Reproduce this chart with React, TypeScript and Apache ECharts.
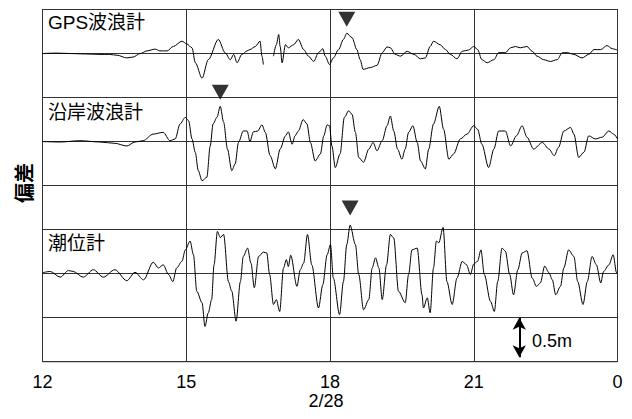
import React, { useEffect, useRef } from 'react';
import * as echarts from 'echarts';

// ---- axis & labels ----
const xTicks = [12, 15, 18, 21, 24];
const xTickLabels = ['12', '15', '18', '21', '0'];
const dateLabel = '2/28';
const yAxisName = '偏差';
const seriesNames = ['GPS波浪計', '沿岸波浪計', '潮位計'];
const baselines = [3.5, 2.5, 1.0]; // vertical offset (m) of each trace
const scaleLabel = '0.5m';
const scaleBarTime = 21.95;
const scaleBarRange = [0.05, 0.5];

// peak markers [time, level]
const peakMarks = [
  [18.35, 3.89],
  [15.71, 3.06],
  [18.42, 1.745],
];

// ---- GPS wave gauge (hours, deviation m) ----
const gpsTime = [
  12.0, 12.3, 12.57, 12.9, 13.2, 13.4, 13.56, 13.76, 13.89, 14.04, 14.18, 14.35, 14.45, 14.6, 14.73,
  14.91, 15.01, 15.12, 15.19, 15.33, 15.46, 15.67, 15.81, 15.92, 15.99, 16.06, 16.16, 16.27, 16.33,
  16.44, 16.54, 16.58, 16.61, 16.7, 16.82, 16.88, 16.93, 16.96, 17.0, 17.07, 17.13, 17.24, 17.34,
  17.45, 17.55, 17.66, 17.76, 17.85, 17.9, 17.99, 18.07, 18.18, 18.28, 18.35, 18.46, 18.56, 18.63,
  18.69, 18.84, 18.98, 19.09, 19.19, 19.26, 19.36, 19.47, 19.61, 19.75, 19.89, 19.99, 20.09, 20.16,
  20.3, 20.41, 20.51, 20.65, 20.76, 20.89, 21.0, 21.08, 21.17, 21.28, 21.42, 21.52, 21.66, 21.77,
  21.87, 21.97, 22.11, 22.22, 22.32, 22.46, 22.6, 22.74, 22.85, 22.95, 23.09, 23.26, 23.4, 23.51,
  23.65, 23.78, 23.89, 23.99,
];
const gpsDev = [
  0.0, 0.005, 0.0, -0.005, -0.01, -0.01, -0.02, -0.05, -0.04, 0.0, 0.03, 0.05, 0.03, 0.03, 0.08,
  0.14, 0.11, 0.065, -0.105, -0.28, -0.07, 0.16, 0.01, -0.07, -0.01, -0.105, -0.01, 0.03, 0.045,
  0.08, 0.14, -0.03, -0.125, null, -0.03, 0.1, 0.215, 0.08, -0.105, 0.1, 0.065, 0.1, 0.16,
  0.045, -0.03, -0.09, 0.01, 0.055, -0.03, -0.125, -0.05, 0.045, 0.16, 0.23, 0.18, 0.045, -0.07,
  -0.18, -0.16, -0.135, 0.01, 0.075, 0.065, -0.01, -0.03, 0.025, -0.01, -0.06, -0.05, 0.08, 0.14,
  0.1, 0.045, -0.01, -0.06, 0.025, 0.04, 0.08, 0.045, -0.07, -0.105, -0.07, 0.01, 0.01, 0.065,
  0.08, 0.065, 0.08, 0.025, -0.03, -0.07, -0.09, -0.07, 0.01, 0.01, -0.01, -0.05, -0.01, 0.045,
  0.045, 0.09, 0.055, 0.04,
];

// ---- coastal wave gauge ----
const coastTime = [
  12.0, 12.37, 12.78, 13.2, 13.51, 13.76, 13.93, 14.1, 14.31, 14.52, 14.66, 14.77, 14.87, 14.98,
  15.05, 15.12, 15.19, 15.25, 15.33, 15.43, 15.5, 15.56, 15.64, 15.71, 15.78, 15.86, 15.95, 16.02,
  16.09, 16.19, 16.27, 16.33, 16.4, 16.49, 16.58, 16.65, 16.75, 16.86, 16.96, 17.07, 17.13, 17.21,
  17.27, 17.34, 17.44, 17.52, 17.59, 17.69, 17.8, 17.87, 17.94, 17.99, 18.04, 18.11, 18.21, 18.3,
  18.39, 18.46, 18.53, 18.6, 18.7, 18.81, 18.9, 18.98, 19.09, 19.19, 19.26, 19.33, 19.41, 19.5,
  19.57, 19.64, 19.73, 19.82, 19.89, 19.99, 20.06, 20.16, 20.28, 20.37, 20.48, 20.58, 20.72, 20.86,
  21.0, 21.08, 21.17, 21.31, 21.42, 21.52, 21.66, 21.77, 21.89, 22.01, 22.11, 22.25, 22.43, 22.57,
  22.68, 22.77, 22.88, 23.02, 23.09, 23.19, 23.3, 23.4, 23.54, 23.68, 23.82, 23.92, 24.0,
];
const coastDev = [
  0.0, -0.005, 0.01, -0.005, -0.02, -0.05, -0.005, 0.01, 0.085, 0.105, 0.01, 0.03, 0.2, 0.275,
  0.235, 0.03, -0.125, -0.33, -0.445, -0.405, -0.05, 0.2, 0.275, 0.4, 0.22, -0.085, -0.33, -0.255,
  -0.01, 0.12, 0.12, 0.0, 0.11, 0.12, 0.19, 0.105, -0.16, -0.31, -0.085, 0.065, 0.11, -0.03,
  0.065, 0.12, 0.25, 0.2, -0.01, -0.22, -0.14, 0.065, 0.19, 0.18, -0.05, -0.295, -0.14, 0.275,
  0.35, 0.31, 0.105, -0.18, -0.235, -0.085, -0.01, -0.105, 0.01, 0.18, 0.29, 0.12, -0.085, -0.2,
  -0.085, 0.105, 0.18, -0.01, -0.22, -0.31, -0.085, 0.2, 0.4, 0.14, -0.2, -0.14, 0.03, 0.085,
  0.18, 0.14, -0.03, -0.295, -0.085, 0.12, 0.12, -0.05, 0.065, 0.18, 0.05, -0.085, -0.01, -0.085,
  -0.16, -0.065, 0.12, 0.16, 0.085, -0.18, -0.12, 0.065, 0.03, 0.05, 0.12, 0.085, 0.03,
];

// ---- tide gauge ----
const tideTime = [
  12.0, 12.16, 12.37, 12.54, 12.64, 12.85, 13.06, 13.27, 13.51, 13.76, 13.93, 14.11, 14.31, 14.42,
  14.52, 14.63, 14.72, 14.8, 14.91, 14.98, 15.08, 15.15, 15.22, 15.33, 15.39, 15.46, 15.53, 15.58,
  15.65, 15.71, 15.78, 15.88, 15.95, 16.04, 16.13, 16.19, 16.28, 16.35, 16.42, 16.51, 16.61, 16.68,
  16.74, 16.82, 16.88, 16.95, 17.03, 17.09, 17.13, 17.18, 17.31, 17.38, 17.45, 17.53, 17.62, 17.76,
  17.85, 17.94, 18.01, 18.07, 18.2, 18.28, 18.35, 18.42, 18.53, 18.6, 18.7, 18.81, 18.88, 18.95,
  19.02, 19.09, 19.18, 19.26, 19.33, 19.43, 19.57, 19.64, 19.71, 19.82, 19.92, 19.95, 20.03, 20.09,
  20.16, 20.22, 20.27, 20.36, 20.44, 20.55, 20.65, 20.76, 20.85, 20.93, 21.0, 21.08, 21.15, 21.22,
  21.35, 21.43, 21.5, 21.59, 21.66, 21.75, 21.83, 21.92, 22.01, 22.11, 22.22, 22.31, 22.39, 22.48,
  22.57, 22.64, 22.71, 22.81, 22.88, 22.98, 23.09, 23.17, 23.28, 23.37, 23.47, 23.56, 23.65, 23.71,
  23.82, 23.91, 23.98, 24.0,
];
const tideDev = [
  0.01, 0.025, -0.04, 0.035, 0.025, -0.04, 0.045, -0.04, 0.045, -0.08, 0.015, -0.07, 0.13, 0.065,
  0.1, -0.01, -0.09, 0.065, 0.14, 0.27, 0.37, 0.215, -0.2, -0.33, -0.6, -0.445, -0.295, 0.1,
  0.48, 0.41, 0.445, -0.09, -0.2, -0.54, -0.09, 0.195, 0.29, 0.12, -0.16, 0.195, 0.245, 0.235,
  -0.01, -0.35, -0.295, -0.43, 0.065, 0.16, 0.08, 0.21, -0.145, 0.045, 0.12, 0.445, 0.1, -0.39,
  -0.125, 0.215, 0.33, -0.05, -0.465, -0.09, 0.33, 0.55, 0.33, -0.01, -0.41, -0.295, 0.065, 0.18,
  0.065, -0.295, 0.1, 0.445, 0.405, -0.2, -0.33, -0.01, 0.27, 0.29, -0.24, -0.39, -0.275, -0.445,
  0.065, 0.37, 0.35, 0.525, -0.09, -0.35, -0.05, 0.14, 0.1, -0.01, 0.11, 0.14, 0.27, -0.01,
  -0.315, -0.43, -0.09, 0.29, 0.255, -0.01, -0.24, 0.045, 0.235, 0.26, -0.05, -0.145, -0.105, 0.085,
  0.01, -0.07, -0.24, -0.145, 0.065, 0.27, 0.195, -0.09, -0.35, -0.09, 0.195, 0.1, -0.105, 0.025,
  0.1, 0.215, 0.01, 0.0,
];

const traces = [
  { time: gpsTime, dev: gpsDev },
  { time: coastTime, dev: coastDev },
  { time: tideTime, dev: tideDev },
];

const LATIN = '"Liberation Sans", Arial, sans-serif';
const CJK = '"Liberation Sans", "Noto Sans CJK JP", sans-serif';

export default function App() {
  const ref = useRef<HTMLDivElement>(null);

  useEffect(() => {
    document.body.style.margin = '0';
    if (!ref.current) return;
    const chart = echarts.init(ref.current, null, { renderer: 'svg' });

    const lineSeries: any[] = traces.map((tr, k) => ({
      type: 'line',
      name: seriesNames[k],
      showSymbol: false,
      symbol: 'none',
      smooth: 0.3,
      smoothMonotone: 'x',
      connectNulls: false,
      lineStyle: { color: '#000', width: 1 },
      data: tr.time.map((t, i) => [t, tr.dev[i] == null ? '-' : (tr.dev[i] as number) + baselines[k]]),
      z: 3,
    }));

    lineSeries[2].markLine = {
      silent: true,
      symbol: ['arrow', 'arrow'],
      symbolSize: [10, 12],
      label: { show: false },
      lineStyle: { color: '#000', width: 2, type: 'solid' },
      data: [[{ coord: [scaleBarTime, scaleBarRange[1]] }, { coord: [scaleBarTime, scaleBarRange[0]] }]],
    };

    const option: any = {
      animation: false,
      backgroundColor: '#fff',
      grid: { left: 42.5, right: 14.5, top: 9.5, bottom: 57.3, show: true, borderColor: '#000', borderWidth: 1 },
      xAxis: {
        type: 'value',
        min: xTicks[0],
        max: xTicks[xTicks.length - 1],
        interval: 3,
        axisLine: { show: false },
        axisTick: { show: false },
        splitLine: { show: true, lineStyle: { color: '#333', width: 1 } },
        axisLabel: {
          color: '#000',
          fontSize: 18,
          fontFamily: LATIN,
          margin: 11,
          formatter: (v: number) => {
            const idx = xTicks.indexOf(v);
            return idx >= 0 ? xTickLabels[idx] : '';
          },
        },
      },
      yAxis: {
        type: 'value',
        min: 0,
        max: 4,
        interval: 0.5,
        axisLine: { show: false },
        axisTick: { show: false },
        axisLabel: { show: false },
        splitLine: { show: true, lineStyle: { color: '#333', width: 1 } },
      },
      series: [
        ...lineSeries,
        {
          type: 'scatter',
          symbol: 'triangle',
          symbolRotate: 180,
          symbolSize: [17, 15],
          itemStyle: { color: '#000' },
          data: peakMarks,
          z: 4,
        },
      ],
      graphic: [
        {
          type: 'text', left: 48, top: 13,
          style: { text: seriesNames[0], fontSize: 19, fontFamily: CJK, fill: '#000' },
        },
        {
          type: 'text', left: 48, top: 103,
          style: { text: seriesNames[1], fontSize: 19, fontFamily: CJK, fill: '#000' },
        },
        {
          type: 'text', left: 48, top: 234,
          style: { text: seriesNames[2], fontSize: 19, fontFamily: CJK, fill: '#000' },
        },
        {
          type: 'text', x: 23, y: 183, rotation: Math.PI / 2,
          style: {
            text: yAxisName, fontSize: 20, fontWeight: 'bold', fontFamily: '"Noto Sans CJK JP", sans-serif',
            fill: '#000', align: 'center', verticalAlign: 'middle',
          },
        },
        {
          type: 'text', x: 326, y: 401,
          style: { text: dateLabel, fontSize: 18, fontFamily: LATIN, fill: '#000', align: 'center', verticalAlign: 'middle' },
        },
        {
          type: 'text', x: 532, y: 341,
          style: { text: scaleLabel, fontSize: 18, fontFamily: LATIN, fill: '#000', align: 'left', verticalAlign: 'middle' },
        },
      ],
    };

    chart.setOption(option);
    return () => chart.dispose();
  }, []);

  return <div ref={ref} style={{ width: 632, height: 419 }} />;
}
